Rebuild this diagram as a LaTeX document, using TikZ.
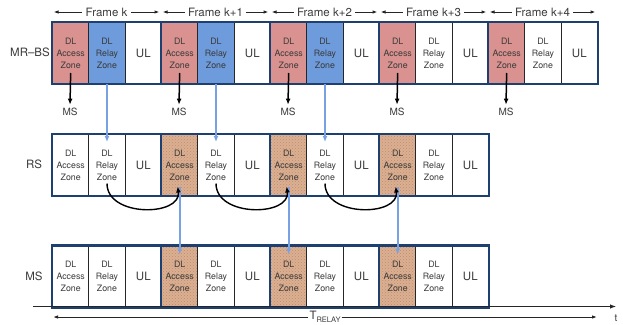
\documentclass[tikz,border=0pt]{standalone}
\usepackage{fontspec}
\setmainfont{TeX Gyre Heros}
\usetikzlibrary{arrows.meta,patterns}
\definecolor{navy}{HTML}{1E4070}
\definecolor{pinkc}{HTML}{D9928F}
\definecolor{bluec}{HTML}{6E9BDC}
\definecolor{brownf}{HTML}{DCAF91}
\definecolor{brownd}{HTML}{B88E74}
\definecolor{blueln}{HTML}{78A2E2}
\definecolor{txt}{HTML}{3A3A3A}
\begin{document}
\begin{tikzpicture}[x=1pt,y=-1pt,
  cell/.style={draw=black!85, line width=1pt, minimum width=36.33pt, minimum height=61pt,
    inner sep=0pt, align=center, anchor=north west, text=txt,
    font=\fontsize{8.8}{12}\selectfont},
  ulcell/.style={cell, font=\fontsize{11.5}{13}\selectfont},
  pinkcell/.style={fill=pinkc},
  bluecell/.style={fill=bluec},
  browncell/.style={preaction={fill=brownf}, pattern=crosshatch dots, pattern color=brownd},
  frameb/.style={draw=navy, line width=2.2pt},
  lab/.style={text=txt, font=\fontsize{11.5}{13}\selectfont},
  msl/.style={text=txt, font=\fontsize{10}{12}\selectfont},
  darr/.style={-{Latex[length=6pt,width=5pt]}, line width=1.5pt, black},
  barr/.style={-{Latex[length=6pt,width=5pt]}, line width=1.8pt, blueln},
  farr/.style={-{Latex[length=5pt,width=3.5pt]}, line width=1pt, black!85},
  curv/.style={-{Latex[length=6pt,width=5pt]}, line width=1.4pt, black}
]
\useasboundingbox (0,0) rectangle (623,324);

% row labels
\node[lab] (lbs) at (30,52) {MR–BS};
\node[lab] (lrs) at (34,164) {RS};
\node[lab] (lms) at (34,276) {MS};

% MR-BS row
\foreach \i in {0,...,4} {
  \pgfmathsetmacro\x{52+109*\i}
  \ifnum\i<3
    \node[cell,pinkcell] (B\i a) at (\x,22) {DL\\Access\\Zone};
    \node[cell,bluecell] (B\i r) at (\x+36.33,22) {DL\\Relay\\Zone};
  \else
    \node[cell,pinkcell] (B\i a) at (\x,22) {DL\\Access\\Zone};
    \node[cell] (B\i r) at (\x+36.33,22) {DL\\Relay\\Zone};
  \fi
  \node[ulcell] (B\i u) at (\x+72.67,22) {UL};
  \draw[frameb] (B\i a.north west) rectangle (B\i u.south east);
  % MS below
  \node[msl] (MSl\i) at (\x+18,112) {MS};
  \draw[darr] ([yshift=-20pt]B\i a.center) -- (MSl\i.north);
  % frame label
  \ifnum\i=0
    \node[lab] (F\i) at (\x+54.5,12) {Frame k};
  \else
    \node[lab] (F\i) at (\x+54.5,12) {Frame k+\i};
  \fi
  \coordinate (FL\i) at (\x+1.5,12);
  \coordinate (FR\i) at (\x+107.5,12);
  \draw[farr] (F\i.west) -- (FL\i);
  \draw[farr] (F\i.east) -- (FR\i);
}

% RS and MS rows
\foreach \row/\y in {R/134,M/245.5} {
  \foreach \i in {0,...,3} {
    \pgfmathsetmacro\x{52+109*\i}
    \ifnum\i=0
      \node[cell] (\row\i a) at (\x,\y) {DL\\Access\\Zone};
    \else
      \node[cell,browncell] (\row\i a) at (\x,\y) {DL\\Access\\Zone};
    \fi
    \node[cell] (\row\i r) at (\x+36.33,\y) {DL\\Relay\\Zone};
    \node[ulcell] (\row\i u) at (\x+72.67,\y) {UL};
    \draw[frameb] (\row\i a.north west) rectangle (\row\i u.south east);
  }
}

% relay arrows and curves
\foreach \i/\j in {0/1,1/2,2/3} {
  \draw[barr] (B\i r.south) -- ([yshift=-8pt]R\i r.north);
  \draw[barr] ([yshift=-22pt]R\j a.center) -- ([yshift=-9pt]M\j a.north);
  \draw[curv] ([yshift=-18.5pt]R\i r.center) .. controls +(0,34) and +(4,30) .. ([xshift=-2pt,yshift=-21.5pt]R\j a.center);
}

% timeline
\coordinate (t0) at (33,306.5);
\coordinate (t1) at (616,306.5);
\draw[-{Latex[length=6pt,width=4.5pt]}, line width=1pt, black!85] (t0) -- (t1);
\node[lab, font=\fontsize{10}{12}\selectfont] (tl) at (616,318) {t};

% T_RELAY
\node[lab, inner sep=1pt] (TR) at (325,317) {T\raisebox{-2.5pt}{\fontsize{7.5}{9}\selectfont RELAY}};
\coordinate (TRL) at (53,317);
\coordinate (TRR) at (597,317);
\draw[farr] (TR.west) -- (TRL);
\draw[farr] (TR.east) -- (TRR);
\end{tikzpicture}
\end{document}
